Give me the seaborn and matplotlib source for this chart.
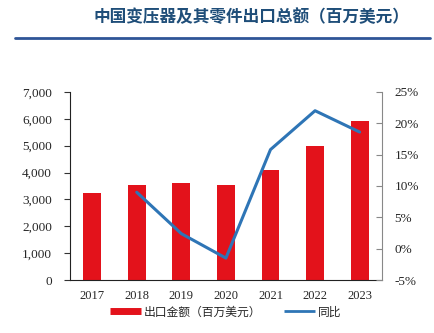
import numpy as np
import pandas as pd
import matplotlib
matplotlib.use("Agg")
import matplotlib.pyplot as plt
import seaborn as sns
from matplotlib.lines import Line2D
from matplotlib.ticker import FuncFormatter

years = ["2017", "2018", "2019", "2020", "2021", "2022", "2023"]
export_value = [3230, 3520, 3610, 3550, 4110, 5000, 5930]
yoy_years = ["2018", "2019", "2020", "2021", "2022", "2023"]
yoy_pct = [9.0, 2.4, -1.5, 15.8, 22.0, 18.6]
title = "中国变压器及其零件出口总额（百万美元）"
bar_label = "出口金额（百万美元）"
line_label = "同比"

sns.set_theme(style="white")
plt.rcParams['font.family'] = ['Liberation Serif', 'Noto Sans CJK SC']

RED = "#e3121b"
BLUE = "#2e75b6"

fig = plt.figure(figsize=(4.34, 3.33), dpi=100)
ax = fig.add_axes([0.161, 0.159, 0.719, 0.565])

df = pd.DataFrame({"year": years, "value": export_value})
sns.barplot(data=df, x="year", y="value", color=RED, width=0.4, ax=ax,
            saturation=1, edgecolor="none")
ax.set_xlim(-0.5, len(years) - 0.5)
ax.set_ylim(0, 7000)
ax.set_yticks(np.arange(0, 7001, 1000))
ax.yaxis.set_major_formatter(FuncFormatter(lambda v, p: f"{int(v):,}"))
ax.set_xlabel("")
ax.set_ylabel("")
ax.set_xticks(np.arange(len(years)))
ax.set_xticklabels(years)
ax.set_xticks(np.arange(-0.5, len(years) + 0.5, 1), minor=True)
ax.tick_params(axis="x", which="major", length=0, labelsize=9, pad=7)
ax.tick_params(axis="x", which="minor", length=4, color="#333333", width=0.8, direction="out")
ax.tick_params(axis="y", length=4, width=0.8, color="#333333", labelsize=9.5, direction="out",
               left=True, pad=9)
for s in ["top", "right"]:
    ax.spines[s].set_visible(False)
for s in ["left", "bottom"]:
    ax.spines[s].set_color("#222222")
    ax.spines[s].set_linewidth(0.8)

ax2 = ax.twinx()
pos = {y: i for i, y in enumerate(years)}
ldf = pd.DataFrame({"pos": [pos[y] for y in yoy_years], "pct": yoy_pct})
sns.lineplot(data=ldf, x="pos", y="pct", color=BLUE, linewidth=2.2, ax=ax2, legend=False)
ax2.set_ylim(-5, 25)
ax2.set_yticks(np.arange(-5, 26, 5))
ax2.yaxis.set_major_formatter(FuncFormatter(lambda v, p: f"{int(v)}%"))
ax2.set_ylabel("")
ax2.set_xlabel("")
ax2.tick_params(axis="y", length=4, width=0.8, color="#888888", labelsize=9.5, direction="in",
                right=True, pad=9)
for s in ["top", "left", "bottom"]:
    ax2.spines[s].set_visible(False)
ax2.spines["right"].set_color("#888888")
ax2.spines["right"].set_linewidth(0.8)
ax2.set_xlim(-0.5, len(years) - 0.5)

handles = [Line2D([0], [0], color=RED, lw=5, solid_capstyle="butt"),
           Line2D([0], [0], color=BLUE, lw=2, solid_capstyle="butt")]
fig.legend(handles, [bar_label, line_label], loc="center", bbox_to_anchor=(0.52, 0.063),
           ncol=2, frameon=False, handlelength=2.6, columnspacing=2.0, handletextpad=0.2,
           prop={"family": ["Noto Sans CJK SC"], "size": 8.5})

fig.text(0.58, 0.948, title, ha="center", va="center", fontsize=12, fontweight="bold",
         color="#1f4e79", family=["Noto Sans CJK SC"])
fig.add_artist(Line2D([0.035, 0.99], [0.886, 0.886], color="#2f5597", lw=2, transform=fig.transFigure))

fig.savefig("out.png", dpi=100)
